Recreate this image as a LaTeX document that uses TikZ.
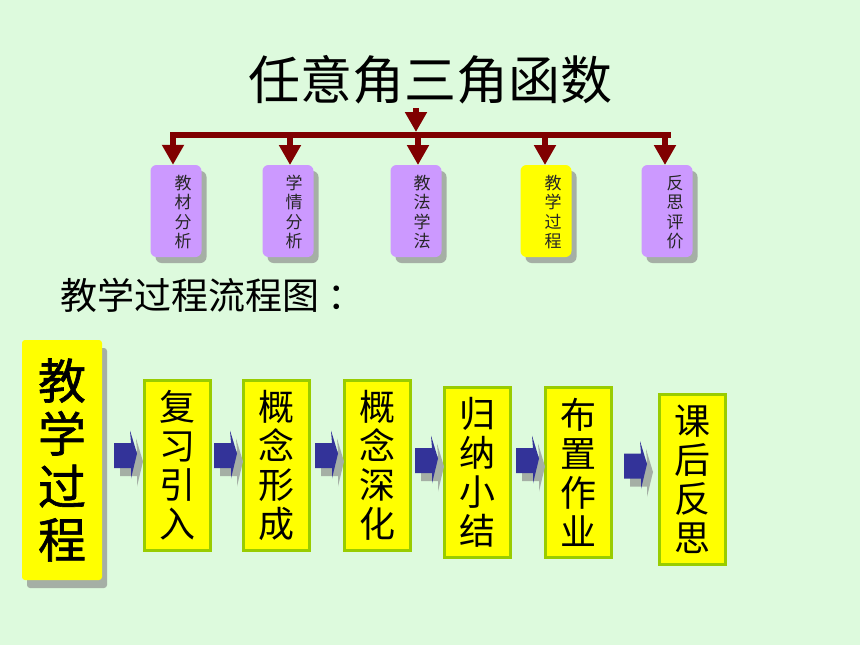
\documentclass[tikz,border=0pt]{standalone}
\usepackage{fontspec}
\newfontfamily\cjk{Noto Sans CJK SC}
\newfontfamily\cjkb[FakeBold=1.2]{Noto Sans CJK SC}
\usetikzlibrary{arrows.meta,shadows}
\definecolor{bg}{RGB}{221,250,221}
\definecolor{lilac}{RGB}{204,153,255}
\definecolor{yel}{RGB}{255,255,0}
\definecolor{grn}{RGB}{153,204,0}
\definecolor{darkred}{RGB}{128,0,0}
\definecolor{arrblue}{RGB}{51,51,153}
\definecolor{shgray}{RGB}{165,175,165}
\tikzset{
  topbox/.style={rectangle, rounded corners=6pt, fill=#1, minimum width=51pt, minimum height=92pt, inner sep=0pt,
    drop shadow={shadow xshift=5pt, shadow yshift=-6pt, fill=shgray, opacity=1}},
  toptext/.style={font=\cjk\fontsize{17}{19.5}\selectfont, align=center, text=black!85, inner sep=0pt},
  flowbox/.style={rectangle, draw=grn, line width=3pt, fill=yel, minimum width=66pt, minimum height=170pt,
    inner sep=0pt, align=center, font=\cjk\fontsize{36}{39}\selectfont},
  redline/.style={darkred, line width=6pt},
  redarrow/.style={darkred, line width=6pt, -{Triangle[width=21pt,length=20pt]}},
  blockarrow/.pic={
    \fill[shgray, shift={(6,8)}] (0,-12.5) -- (17,-12.5) -- (16,-25) -- (23,-2) -- (17,23) -- (17,12.5) -- (0,12.5) -- cycle;
    \fill[arrblue] (0,-12.5) -- (17,-12.5) -- (16,-25) -- (23,-2) -- (17,23) -- (17,12.5) -- (0,12.5) -- cycle;
  }
}
\begin{document}
\begin{tikzpicture}[x=1pt,y=-1pt]
\fill[bg] (0,0) rectangle (860,645);
\useasboundingbox (0,0) rectangle (860,645);

% title
\node[font=\cjk\fontsize{52}{56}\selectfont, inner sep=0pt] (title) at (430,80) {任意角三角函数};

% top boxes
\node[topbox=lilac] (b1) at (176,211) {};
\node[topbox=lilac] (b2) at (288,211) {};
\node[topbox=lilac] (b3) at (416,211) {};
\node[topbox=yel]   (b4) at (546,211) {};
\node[topbox=lilac] (b5) at (667,211) {};
\node[toptext] (t1) at (183,212) {教\\材\\分\\析};
\node[toptext] (t2) at (294,212) {学\\情\\分\\析};
\node[toptext] (t3) at (422,212) {教\\法\\学\\法};
\node[toptext] (t4) at (553,212) {教\\学\\过\\程};
\node[toptext] (t5) at (675,212) {反\\思\\评\\价};

% connectors
\coordinate (barL) at (173,135);
\coordinate (barR) at (668,135);
\coordinate (topS) at (416,108);
\coordinate (topE) at (416,132);
\draw[redline, line cap=butt] ([xshift=-3pt]barL) -- ([xshift=3pt]barR);
\draw[redarrow] (topS) -- (topE);
\draw[redarrow] (barL) -- (barL |- b1.north);
\draw[redarrow] (290,135) -- (290,165);
\draw[redarrow] (418,135) -- (418,165);
\draw[redarrow] (545,135) -- (545,165);
\draw[redarrow] (665,135) -- (665,165);

% subtitle
\node[font=\cjk\fontsize{37}{40}\selectfont, anchor=west, inner sep=0pt] (sub) at (60,295) {教学过程流程图\hspace{8pt}：};

% left big box
\node[rectangle, rounded corners=3pt, fill=yel, minimum width=80pt, minimum height=240pt, inner sep=0pt,
  drop shadow={shadow xshift=5pt, shadow yshift=-8pt, fill=shgray, opacity=1},
  align=center, font=\cjkb\fontsize{48}{53}\selectfont] (main) at (62,460) {教\\学\\过\\程};

% flow boxes
\node[flowbox] (f1) at (177,465) {复\\习\\引\\入};
\node[flowbox] (f2) at (276.5,465) {概\\念\\形\\成};
\node[flowbox] (f3) at (377,465) {概\\念\\深\\化};
\node[flowbox] (f4) at (477,472) {归\\纳\\小\\结};
\node[flowbox] (f5) at (578,472) {布\\置\\作\\业};
\node[flowbox] (f6) at (692,479.5) {课\\后\\反\\思};

% block arrows
\pic at (114,455.5) {blockarrow};
\pic at (214,455.5) {blockarrow};
\pic at (315,455.5) {blockarrow};
\pic at (415,460.5) {blockarrow};
\pic at (516,460.5) {blockarrow};
\pic at (624,466) {blockarrow};
\end{tikzpicture}
\end{document}
